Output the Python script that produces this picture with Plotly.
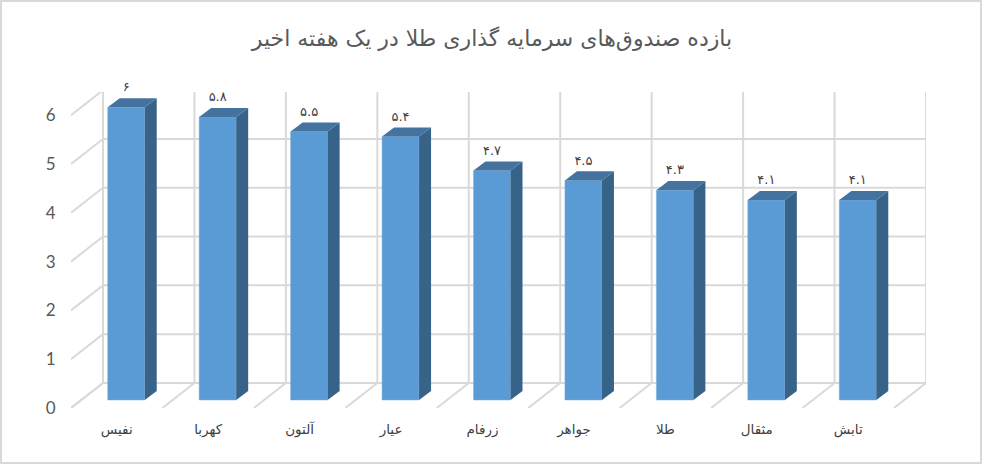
import plotly.graph_objects as go

# Fund returns in the last week
funds = ['نفیس', 'کهربا', 'آلتون', 'عیار', 'زرفام', 'جواهر', 'طلا', 'مثقال', 'تابش']
returns = [6, 5.8, 5.5, 5.4, 4.7, 4.5, 4.3, 4.1, 4.1]
return_labels = ['۶', '۵.۸', '۵.۵', '۵.۴', '۴.۷', '۴.۵', '۴.۳', '۴.۱', '۴.۱']
y_ticks = [0, 1, 2, 3, 4, 5, 6]
title = 'بازده صندوق‌های سرمایه گذاری طلا در یک هفته اخیر'

WIDTH, HEIGHT = 982, 464
L, R, T, B = 71, 56, 92, 56
X_MIN, X_MAX = -0.5, 8.85
Y_MIN, Y_MAX = 0, 6.475

# fake 3D: how far the back wall and the bars are shifted
WALL_DX, WALL_DY = 0.35, 0.513
BAR_X, BAR_BASE = 0.104, 0.164
BAR_W = 0.405
SIDE_DX, SIDE_DY = 0.131, 0.185
LABEL_GAP = 0.07

FONT = 'DejaVu Sans'
GRID = '#D9D9D9'


def grid_line(x0, y0, x1, y1):
    return dict(type='line', layer='below', xref='x', yref='y', x0=x0, y0=y0, x1=x1, y1=y1,
                line=dict(color=GRID, width=2))


shapes = []
wall_left = X_MIN + WALL_DX
wall_right = X_MAX
for v in y_ticks:
    shapes.append(grid_line(X_MIN, v, wall_left, v + WALL_DY))
    shapes.append(grid_line(wall_left, v + WALL_DY, wall_right, v + WALL_DY))
for k in range(len(funds) + 1):
    xb = k - 0.5 + WALL_DX
    shapes.append(grid_line(xb, WALL_DY, xb, max(y_ticks) + WALL_DY))
    shapes.append(grid_line(k - 0.5, 0, xb, WALL_DY))

# outer chart border, in paper units of the plot area
plot_w = WIDTH - L - R
plot_h = HEIGHT - T - B
shapes.append(dict(type='rect', layer='below', xref='paper', yref='paper',
                   x0=(1 - L) / plot_w, x1=(WIDTH - 1 - L) / plot_w,
                   y0=-(B - 1) / plot_h, y1=1 + (T - 1) / plot_h,
                   line=dict(color=GRID, width=2)))

xs = [k + BAR_X for k in range(len(funds))]

side_x, side_y, top_x, top_y = [], [], [], []
for x, v in zip(xs, returns):
    right = x + BAR_W / 2
    left = x - BAR_W / 2
    top = v + BAR_BASE
    side_x += [right, right + SIDE_DX, right + SIDE_DX, right, right, None]
    side_y += [BAR_BASE, BAR_BASE + SIDE_DY, top + SIDE_DY, top, BAR_BASE, None]
    top_x += [left, left + SIDE_DX, right + SIDE_DX, right, left, None]
    top_y += [top, top + SIDE_DY, top + SIDE_DY, top, top, None]

fig = go.Figure()
fig.add_trace(go.Bar(x=xs, y=returns, base=BAR_BASE, width=BAR_W, marker_color='#5B9BD5',
                     marker_line=dict(color='#7FAEDB', width=0.5), hoverinfo='skip'))
fig.add_trace(go.Scatter(x=side_x, y=side_y, mode='lines', fill='toself', fillcolor='#376389',
                         line=dict(width=0), hoverinfo='skip'))
fig.add_trace(go.Scatter(x=top_x, y=top_y, mode='lines', fill='toself', fillcolor='#44739F',
                         line=dict(width=0), hoverinfo='skip'))
fig.add_trace(go.Scatter(x=xs, y=[v + BAR_BASE + SIDE_DY + LABEL_GAP for v in returns], mode='text',
                         text=return_labels, textposition='top center', cliponaxis=False,
                         textfont=dict(family=FONT, size=13, color='#404040'), hoverinfo='skip'))

fig.update_layout(
    width=WIDTH, height=HEIGHT,
    margin=dict(l=L, r=R, t=T, b=B),
    paper_bgcolor='white', plot_bgcolor='white',
    showlegend=False,
    shapes=shapes,
    title=dict(text=title, x=492 / WIDTH, xanchor='center', y=1 - 38 / HEIGHT, yanchor='middle',
               font=dict(family=FONT, size=22, color='#595959')),
    xaxis=dict(range=[X_MIN, X_MAX], tickmode='array', tickvals=list(range(len(funds))), ticktext=funds,
               showgrid=False, zeroline=False, showline=False, ticks='outside', ticklen=9,
               tickcolor='rgba(0,0,0,0)', tickfont=dict(family=FONT, size=13.5, color='#404040')),
    yaxis=dict(range=[Y_MIN, Y_MAX], tickmode='array', tickvals=y_ticks,
               showgrid=False, zeroline=False, showline=False, ticks='outside', ticklen=11,
               tickcolor='rgba(0,0,0,0)', tickfont=dict(family='Lato', size=17, color='#595959')),
)

# the page's default body margin would push the chart 8px off
fig.write_html("out.html", config={'displayModeBar': False},
               post_script="document.body.style.margin='0';document.body.style.overflow='hidden';")
